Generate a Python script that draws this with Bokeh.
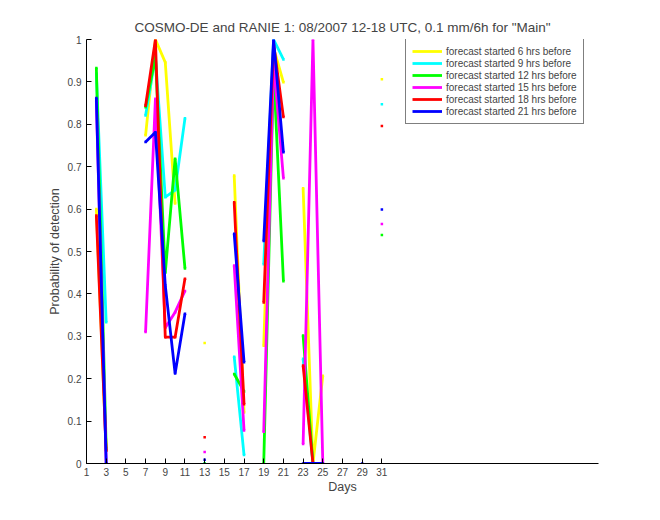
import numpy as np
from bokeh.plotting import figure
from bokeh.models import Range1d, FixedTicker, Legend, LegendItem
from bokeh.embed import file_html
from bokeh.resources import INLINE

nan = np.nan
days = list(range(1, 32))

def series(d):
    return [d.get(k, nan) for k in days]

pod_6h = series({2: 0.60, 3: 0.03, 7: 0.774, 8: 1.0, 9: 0.946, 10: 0.613, 13: 0.284,
                 16: 0.679, 17: 0.12, 19: 0.278, 20: 0.98, 21: 0.899,
                 23: 0.649, 24: 0.0, 25: 0.207, 31: 0.906})
pod_9h = series({2: 0.92, 3: 0.333, 7: 0.821, 8: 0.96, 9: 0.628, 10: 0.645, 11: 0.814,
                 13: 0.0, 16: 0.252, 17: 0.02, 19: 0.47, 20: 1.0, 21: 0.953,
                 23: 0.247, 24: 0.0, 25: 0.0, 31: 0.847})
pod_12h = series({2: 0.933, 3: 0.035, 7: 0.84, 8: 0.96, 9: 0.45, 10: 0.719, 11: 0.46,
                  13: 0.0, 16: 0.211, 17: 0.17, 19: 0.0, 20: 0.93, 21: 0.43,
                  23: 0.302, 24: 0.0, 25: 0.0, 31: 0.539})
pod_15h = series({2: 0.855, 3: 0.0, 7: 0.31, 8: 0.86, 9: 0.32, 10: 0.357, 11: 0.407,
                  13: 0.027, 16: 0.467, 17: 0.078, 19: 0.075, 20: 0.95, 21: 0.673,
                  23: 0.046, 24: 1.0, 25: 0.0, 31: 0.565})
pod_18h = series({2: 0.585, 3: 0.03, 7: 0.844, 8: 1.0, 9: 0.298, 10: 0.298, 11: 0.436,
                  13: 0.062, 16: 0.616, 17: 0.14, 19: 0.38, 20: 0.99, 21: 0.817,
                  23: 0.231, 24: 0.0, 25: 0.0, 31: 0.796})
pod_21h = series({2: 0.862, 3: 0.0, 7: 0.758, 8: 0.781, 9: 0.42, 10: 0.212, 11: 0.353,
                  13: 0.009, 16: 0.542, 17: 0.239, 19: 0.525, 20: 1.0, 21: 0.734,
                  23: 0.0, 24: 0.0, 25: 0.0, 29: 0.0, 31: 0.599})

labels = ["forecast started 6 hrs before", "forecast started 9 hrs before",
          "forecast started 12 hrs before", "forecast started 15 hrs before",
          "forecast started 18 hrs before", "forecast started 21 hrs before"]
colors = ["#ffff00", "#00ffff", "#00ff00", "#ff00ff", "#ff0000", "#0000ff"]
all_series = [pod_6h, pod_9h, pod_12h, pod_15h, pod_18h, pod_21h]

x_ticks = list(range(1, 32, 2))
y_ticks = [round(0.1 * i, 1) for i in range(11)]

FONT = "Liberation Sans"

p = figure(width=660, height=520, output_backend="svg", toolbar_location=None,
           x_range=Range1d(1, 53), y_range=Range1d(0, 1),
           min_border_left=86, min_border_right=62, min_border_top=39,
           min_border_bottom=57,
           title='COSMO-DE and RANIE 1: 08/2007 12-18 UTC, 0.1 mm/6h for "Main"')
p.title.align = "center"
p.title.text_font = FONT
p.title.text_font_size = "13.5px"
p.title.text_font_style = "normal"
p.title.offset = 0
p.title.standoff = 10
p.outline_line_color = None
p.xgrid.visible = False
p.ygrid.visible = False
p.background_fill_color = "white"
p.border_fill_color = "white"

for ax in (p.xaxis[0], p.yaxis[0]):
    ax.major_tick_in = 5
    ax.major_tick_out = 0
    ax.minor_tick_line_color = None
    ax.major_label_text_font = FONT
    ax.major_label_text_font_size = "10px"
    ax.axis_label_text_font = FONT
    ax.axis_label_text_font_size = "12.5px"
    ax.axis_label_text_font_style = "normal"
    ax.axis_line_color = "black"
    ax.major_tick_line_color = "black"

p.xaxis.ticker = FixedTicker(ticks=x_ticks)
p.yaxis.ticker = FixedTicker(ticks=y_ticks)
p.yaxis.major_label_overrides = {v: ("%g" % v) for v in y_ticks}
p.xaxis.axis_label = "Days"
p.yaxis.axis_label = "Probability of detection"
p.xaxis.major_label_standoff = 4
p.yaxis.major_label_standoff = 5
p.xaxis.axis_label_standoff = 1
p.yaxis.axis_label_standoff = 3

items = []
for vals, col, lab in zip(all_series, colors, labels):
    r = p.line(days, vals, line_color=col, line_width=2.8)
    p.scatter(days, vals, marker="square", size=2.5, fill_color=col, line_color=None)
    items.append(LegendItem(label=lab, renderers=[r]))

legend = Legend(items=items, location=(319, 339), margin=0, padding=6, spacing=0,
                label_height=12, glyph_height=12, glyph_width=30, label_standoff=4,
                label_text_font=FONT, label_text_font_size="10px",
                border_line_color="black", border_line_width=1,
                background_fill_color="white", background_fill_alpha=1.0)
p.add_layout(legend, "center")

open("out.html", "w").write(file_html(p, INLINE))
